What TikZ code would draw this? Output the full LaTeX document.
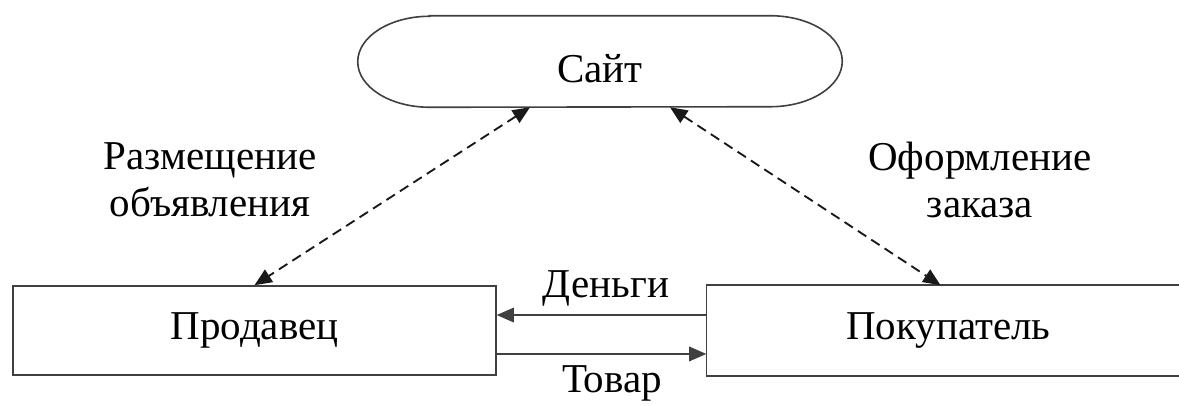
\documentclass[tikz,border=0pt]{standalone}
\usepackage{fontspec}
\setmainfont{Liberation Serif}
\usetikzlibrary{arrows.meta}

\begin{document}
\begin{tikzpicture} [
  x=0.75pt,
  y=-0.75pt,
  font=\fontsize{30.75}{35.25}\selectfont,
  line/.style={draw=black!75, line width=1.2pt},
  flow/.style={line, -{Triangle[length=13pt, width=11pt]}},
  both/.style={line, draw=black!90, line width=1.4pt, dash pattern=on 7.5pt off 4.5pt, {Triangle[length=13pt, width=11pt]}-{Triangle[length=13pt, width=11pt]}},
  box/.style={line, rectangle, minimum width=362pt, minimum height=66.75pt},
  portal/.style={minimum width=363pt, minimum height=68.25pt, inner sep=0pt, text height=32.25pt, text depth=0pt},
  lbl/.style={align=center}
  ]
  \useasboundingbox (0,0) rectangle (1179,406);

  \node(site)[portal, at={(600,61.5)}]{Сайт};
  \draw[line] ([xshift=54pt]site.north west) -- ([xshift=-54pt]site.north east)
    arc[start angle=90, end angle=-90, x radius=54pt, y radius=34.125pt]
    -- ([xshift=54pt]site.south west)
    arc[start angle=270, end angle=90, x radius=54pt, y radius=34.125pt] -- cycle;

  \node(seller)[box, at={(254.5,330.5)}]{Продавец};
  \node(buyer)[box, draw=none, at={(948.5,330.5)}]{Покупатель};
  \draw[line] ([xshift=-8.5pt]buyer.north east) -- (buyer.north west)
    -- (buyer.south west) -- ([xshift=-8.5pt]buyer.south east);

  \node(post)[lbl, at={(210,180)}]{Размещение\\объявления};
  \node(order)[lbl, at={(980,180)}]{Оформление\\заказа};
  \node(money)[anchor=base, at={(606,297)}]{Деньги};
  \node(goods)[anchor=base, at={(612,392)}]{Товар};

  \draw[both] ([xshift=-52.5pt]site.south) -- (seller.north);
  \draw[both] ([xshift=52.5pt]site.south) -- ([xshift=-6pt]buyer.north);
  \draw[flow] ([yshift=11.6pt]buyer.west) -- ([yshift=11.6pt]seller.east);
  \draw[flow] ([yshift=-17.6pt]seller.east) -- ([yshift=-17.6pt]buyer.west);
\end{tikzpicture}
\end{document}
